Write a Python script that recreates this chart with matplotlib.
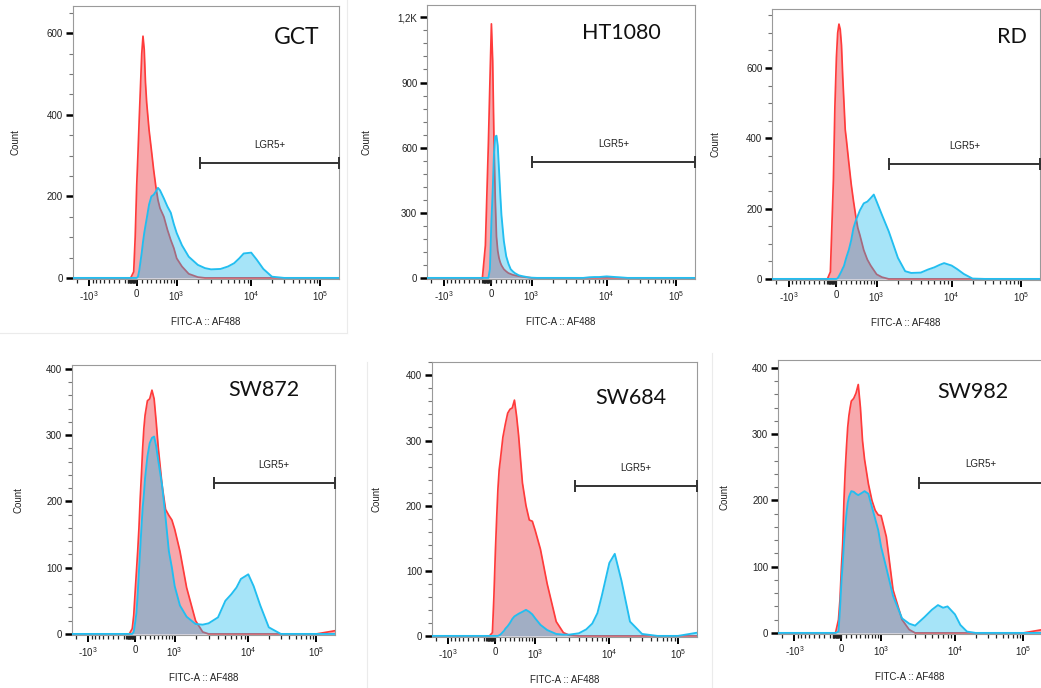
import numpy as np
import matplotlib
matplotlib.use("Agg")
import matplotlib.pyplot as plt
from matplotlib.ticker import FixedLocator, MultipleLocator

plt.rcParams["font.family"] = ["Liberation Sans", "DejaVu Sans"]
plt.rcParams["mathtext.default"] = "regular"

# ---- data: fluorescence grid (FITC-A) and event counts per cell line ----
FITC = [-2500, -1000, -500, -200, -150, -100, -50, -25, 0, 25, 50, 75, 100, 125, 150, 175,
        200, 250, 300, 350, 400, 450, 500, 600, 700, 800, 900, 1000, 1200, 1500, 2000, 2500,
        3000, 4000, 5000, 6000, 7000, 8000, 10000, 12000, 15000, 20000, 30000, 50000,
        100000, 200000]

GCT_CTRL = [0, 0, 0, 0, 0, 0, 15, 100, 226, 305, 390, 470, 550, 593, 560, 480, 430, 363, 314,
            265, 224, 191, 171, 150, 118, 93, 73, 48, 28, 10, 2, 0, 0, 0, 0, 0, 0, 0, 0, 0,
            0, 0, 0, 0, 0, 0]
GCT_LGR5 = [0, 0, 0, 0, 0, 0, 0, 0, 0, 3, 18, 40, 62, 88, 110, 128, 145, 180, 200, 204, 212,
            221, 215, 195, 175, 160, 132, 110, 80, 52, 32, 24, 21, 22, 28, 36, 48, 60, 62, 45,
            22, 3, 0, 0, 0, 0]

HT1080_CTRL = [0, 0, 0, 0, 0, 150, 620, 900, 1170, 1000, 640, 370, 190, 125, 92, 72, 58, 40,
               30, 22, 18, 14, 12, 8, 5, 3, 2, 0, 0, 0, 0, 0, 0, 0, 0, 0, 0, 0, 0, 0, 0, 0, 0,
               0, 0, 0]
HT1080_LGR5 = [0, 0, 0, 0, 0, 0, 0, 40, 260, 400, 570, 650, 655, 610, 500, 390, 290, 170, 100,
               65, 40, 30, 22, 12, 8, 5, 2, 1, 0, 0, 0, 0, 0, 0, 0, 3, 4, 4, 7, 5, 3, 0, 0, 0,
               0, 0]

RD_CTRL = [0, 0, 0, 0, 0, 20, 280, 490, 630, 700, 725, 710, 665, 575, 500, 425, 395, 330, 270,
           222, 180, 145, 125, 82, 55, 38, 25, 13, 5, 0, 0, 0, 0, 0, 0, 0, 0, 0, 0, 0, 0, 0, 0,
           0, 0, 0]
RD_LGR5 = [0, 0, 0, 0, 0, 0, 0, 0, 0, 2, 8, 15, 22, 30, 37, 50, 62, 83, 110, 145, 165, 180,
           195, 215, 220, 230, 240, 220, 182, 135, 60, 22, 17, 18, 27, 33, 40, 45, 38, 28, 14,
           1, 0, 0, 0, 0]

SW872_CTRL = [0, 0, 0, 0, 0, 0, 8, 28, 65, 95, 125, 160, 204, 240, 280, 310, 330, 352, 355,
              368, 355, 320, 282, 225, 188, 179, 172, 158, 125, 70, 20, 3, 0, 0, 0, 0, 0, 0, 0,
              0, 0, 0, 0, 0, 0, 5]
SW872_LGR5 = [0, 0, 0, 0, 0, 0, 0, 3, 18, 32, 60, 95, 128, 160, 190, 210, 235, 268, 288, 296,
              298, 283, 262, 225, 175, 125, 100, 72, 43, 26, 15, 14, 16, 25, 50, 60, 70, 83, 90,
              72, 43, 10, 0, 0, 0, 0]

SW684_CTRL = [0, 0, 0, 0, 0, 0, 5, 60, 130, 180, 225, 255, 271, 288, 305, 315, 325, 342, 348,
              350, 362, 338, 308, 235, 200, 178, 176, 162, 133, 80, 22, 5, 1, 0, 0, 0, 0, 0, 0,
              0, 0, 0, 0, 0, 0, 0]
SW684_LGR5 = [0, 0, 0, 0, 0, 0, 0, 0, 0, 0, 0, 1, 2, 4, 6, 8, 11, 15, 20, 26, 30, 32, 34, 37,
              40, 37, 33, 27, 17, 9, 3, 2, 2, 4, 10, 19, 35, 62, 112, 126, 85, 22, 3, 0, 0, 5]

SW982_CTRL = [0, 0, 0, 0, 0, 0, 20, 50, 100, 135, 200, 245, 280, 310, 328, 340, 350, 354, 362,
              375, 340, 290, 262, 225, 200, 185, 178, 177, 145, 65, 20, 5, 0, 0, 0, 0, 0, 0, 0,
              0, 0, 0, 0, 0, 0, 5]
SW982_LGR5 = [0, 0, 0, 0, 0, 0, 2, 35, 77, 105, 135, 160, 180, 196, 205, 210, 214, 213, 210,
              208, 210, 212, 214, 210, 190, 172, 155, 130, 98, 56, 22, 14, 11, 24, 35, 42, 38,
              40, 28, 12, 2, 0, 0, 0, 0, 0]

NAMES = ["GCT", "HT1080", "RD", "SW872", "SW684", "SW982"]
CTRL = [GCT_CTRL, HT1080_CTRL, RD_CTRL, SW872_CTRL, SW684_CTRL, SW982_CTRL]
LGR5 = [GCT_LGR5, HT1080_LGR5, RD_LGR5, SW872_LGR5, SW684_LGR5, SW982_LGR5]
GATE_START = [2170, 1000, 1500, 3500, 3600, 3400]
GATE_Y = [282, 535, 328, 228, 230, 227]
Y_TICKS = [[0, 200, 400, 600], [0, 300, 600, 900, 1200], [0, 200, 400, 600],
           [0, 100, 200, 300, 400], [0, 100, 200, 300, 400], [0, 100, 200, 300, 400]]
Y_TICKLABELS = [None, ["0", "300", "600", "900", "1,2K"], None, None, None, None]

# ---- FlowJo-like biexponential axis ----
W = 650.0
ANCHOR_V = np.array([-1e6, -2500, -1000, 0, 1000, 1e4, 1e5, 2e5, 1e7])
ANCHOR_P = np.array([-181.4, -64, -47.5, 0, 40, 114.5, 183.5, 203, 320.2])
ANCHOR_A = np.arcsinh(ANCHOR_V / W)


def fwd(x):
    return np.interp(np.arcsinh(np.asarray(x, float) / W), ANCHOR_A, ANCHOR_P)


def inv(p):
    return W * np.sinh(np.interp(np.asarray(p, float), ANCHOR_P, ANCHOR_A))


X_MAJOR = [-1000, 0, 1000, 10000, 100000]
X_LABELS = ["-10$^3$", "0", "10$^3$", "10$^4$", "10$^5$"]
X_MINOR = ([-2000] + list(range(-900, -100, 100)) + list(range(-150, 0, 10))
           + list(range(100, 1000, 100)) + list(range(2000, 10000, 1000))
           + list(range(20000, 100000, 10000)) + [200000])

# layout in pixels: left, top, right, bottom; y-top, minor step, title pos, label offset
PANELS = [
    dict(box=(72.7, 6, 339, 279), ytop=667, ystep=50, title=(0.842, 0.886), fs=16.5, lab=52),
    dict(box=(427, 5, 695, 279), ytop=1257, ystep=60, title=(0.727, 0.898), fs=15.5, lab=55),
    dict(box=(772, 9, 1040, 280), ytop=768, ystep=50, title=(0.896, 0.897), fs=15.5, lab=51),
    dict(box=(72, 365, 335, 635), ytop=406, ystep=20, title=(0.729, 0.907), fs=15.5, lab=49),
    dict(box=(431.7, 361.7, 696.7, 637), ytop=421, ystep=20, title=(0.751, 0.868), fs=15.5, lab=50),
    dict(box=(778, 360, 1042, 634), ytop=412, ystep=20, title=(0.739, 0.884), fs=15.5, lab=49),
]

RED_FILL = "#F7A8AC"
RED_LINE = "#FF3B3B"
BLUE_FILL = "#15B8ED"
BLUE_LINE = "#22BEF0"

FW, FH = 1041, 688
fig = plt.figure(figsize=(FW / 100, FH / 100), dpi=100)
fig.patch.set_facecolor("white")

# faint edges of the pasted panel screenshots
for xs, ys in [([347, 347], [0, 333]), ([0, 347], [333, 333]),
               ([367, 367], [362, 688]), ([711.7, 711.7], [353, 688])]:
    fig.add_artist(plt.Line2D([v / FW for v in xs], [1 - v / FH for v in ys],
                              color="#ebebeb", lw=0.8))

x = np.array(FITC, float)
for i, pan in enumerate(PANELS):
    l, t, r, b = pan["box"]
    w, h = r - l, b - t
    ax = fig.add_axes([l / FW, 1 - b / FH, w / FW, h / FH])
    ax.set_xscale("function", functions=(fwd, inv))

    red = np.array(CTRL[i], float)
    blue = np.array(LGR5[i], float)
    ax.fill_between(x, 0, red, color=RED_FILL, lw=0, zorder=1)
    ax.plot(x, red, color=RED_LINE, lw=1.25, zorder=2)
    ax.fill_between(x, 0, blue, color=BLUE_FILL, alpha=0.38, lw=0, zorder=3)
    ax.plot(x, blue, color=BLUE_LINE, lw=1.35, zorder=4)

    ax.set_xlim(-2500, 195000)
    ax.set_ylim(-pan["ytop"] * 0.004, pan["ytop"])

    # LGR5+ gate
    g0, g1, gy = GATE_START[i], 195000, GATE_Y[i]
    ax.plot([g0, g1], [gy, gy], color="#333333", lw=1.4, marker="|", ms=8, mew=1.4,
            clip_on=False, zorder=5)
    xm = inv((fwd(g0) + fwd(g1)) / 2)
    ax.annotate("LGR5+", xy=(xm, gy), xytext=(0, 13), textcoords="offset points",
                ha="center", va="center", fontsize=7, color="#222222")

    ax.text(*pan["title"], NAMES[i], transform=ax.transAxes, ha="center", va="center",
            fontsize=pan["fs"], family=["Lato", "DejaVu Sans"], color="#111111")

    # axes styling
    for s in ax.spines.values():
        s.set_color("#9a9a9a")
        s.set_linewidth(0.8)
    ax.xaxis.set_major_locator(FixedLocator(X_MAJOR))
    ax.set_xticklabels(X_LABELS)
    ax.xaxis.set_minor_locator(FixedLocator(X_MINOR))
    ax.set_yticks(Y_TICKS[i])
    if Y_TICKLABELS[i] is not None:
        ax.set_yticklabels(Y_TICKLABELS[i])
    ax.yaxis.set_minor_locator(MultipleLocator(pan["ystep"]))
    ax.tick_params(axis="both", which="major", direction="out", labelsize=7,
                   labelcolor="#222222", color="black")
    ax.tick_params(axis="y", which="major", length=5, width=1.8, pad=2)
    ax.tick_params(axis="x", which="major", length=5, width=1.4, pad=2.5)
    ax.tick_params(axis="y", which="minor", length=3, width=0.8, color="#777777")
    ax.tick_params(axis="x", which="minor", length=3, width=0.9, color="#222222")

    ax.set_ylabel("Count", fontsize=7, color="#222222")
    ax.yaxis.set_label_coords(-pan["lab"] / w, 0.5)
    ax.set_xlabel("FITC-A :: AF488", fontsize=7, color="#222222")
    ax.xaxis.set_label_coords(0.5, -38 / h)

fig.savefig("out.png", dpi=100, facecolor="white")
